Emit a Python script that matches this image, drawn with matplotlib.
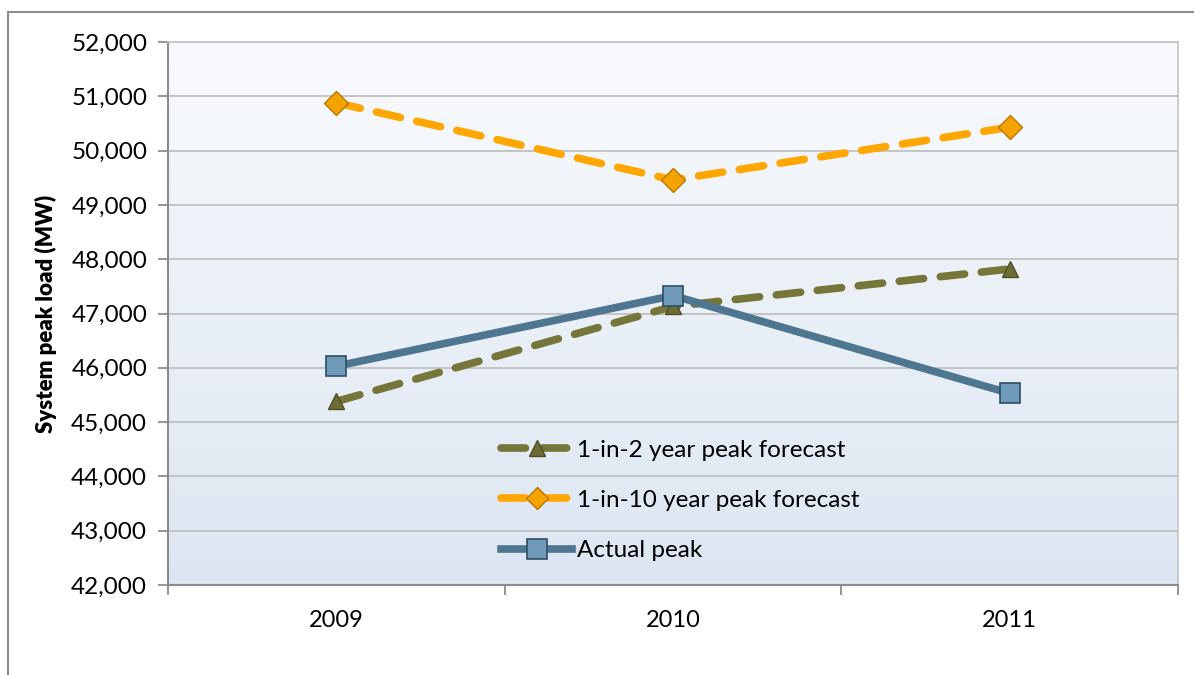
import numpy as np
import matplotlib.pyplot as plt
from matplotlib.lines import Line2D
from matplotlib.ticker import FuncFormatter, FixedLocator

plt.rcParams['font.family'] = ['Lato', 'DejaVu Sans']

years = ["2009", "2010", "2011"]
forecast_1in2 = [45380, 47130, 47820]
forecast_1in10 = [50880, 49460, 50430]
actual_peak = [46030, 47330, 45530]

OLIVE = "#76763a"
ORANGE = "#ffa600"
STEEL = "#4f7690"

fig = plt.figure(figsize=(11.94, 6.75), dpi=100)
ax = fig.add_axes([168 / 1194, 90 / 675, 1010 / 1194, 543 / 675])

# outer chart frame (left and top edges only show)
fig.add_artist(Line2D([8 / 1194, 8 / 1194], [0, 1 - 12 / 675],
                      transform=fig.transFigure, color="#8c8c8c", lw=1.5))
fig.add_artist(Line2D([8 / 1194, 1.0], [1 - 12 / 675, 1 - 12 / 675],
                      transform=fig.transFigure, color="#8c8c8c", lw=1.5))

# plot area gradient, near white at top to pale blue at bottom
grad = np.linspace(0, 1, 256).reshape(-1, 1)
top = np.array([0.975, 0.980, 0.990])
bot = np.array([0.863, 0.902, 0.949])
img = top + (bot - top) * grad[..., None]
ax.imshow(img, extent=[0, 1, 0, 1], transform=ax.transAxes, aspect="auto",
          origin="upper", zorder=0)

x = np.arange(len(years))

ax.plot(x, forecast_1in2, color=OLIVE, lw=5.5, dashes=(3.2, 2.2),
        dash_capstyle="round", zorder=3)
ax.plot(x, forecast_1in10, color=ORANGE, lw=5.5, dashes=(3.2, 2.2),
        dash_capstyle="round", zorder=3)
ax.plot(x, actual_peak, color=STEEL, lw=5.5, solid_capstyle="butt", zorder=3)

ax.plot(x, forecast_1in2, ls="none", marker="^", ms=12, mfc="#6d6d35",
        mec="#4e4e22", mew=1, zorder=4)
ax.plot(x, forecast_1in10, ls="none", marker="D", ms=12, mfc="#f5a300",
        mec="#b87700", mew=1, zorder=4)
ax.plot(x, actual_peak, ls="none", marker="s", ms=14, mfc="#6f9bb8",
        mec="#2f4f63", mew=1.2, zorder=4)

ax.set_xlim(-0.5, 2.5)
ax.set_ylim(42000, 52000)
ax.set_xticks(x)
ax.set_xticklabels(years)
ax.xaxis.set_minor_locator(FixedLocator([-0.5, 0.5, 1.5, 2.5]))
ax.tick_params(axis="x", which="major", length=0, labelsize=17, pad=18)
ax.tick_params(axis="x", which="minor", length=7, width=1.3, color="#8c8c8c")
ax.set_yticks(np.arange(42000, 52001, 1000))
ax.yaxis.set_major_formatter(FuncFormatter(lambda v, p: f"{int(v):,}"))
ax.tick_params(axis="y", length=7, width=1.3, color="#8c8c8c", labelsize=17.5, pad=8)
ax.grid(axis="y", color="#c0c0c0", lw=1.3, zorder=1)
ax.set_axisbelow(True)

for side in ["left", "bottom"]:
    ax.spines[side].set_color("#8c8c8c")
    ax.spines[side].set_linewidth(1.5)
for side in ["right", "top"]:
    ax.spines[side].set_color("#c8c8c8")
    ax.spines[side].set_linewidth(1.3)

ax.set_ylabel("System peak load (MW)", fontsize=16, fontweight="heavy", labelpad=10)

# legend sits inside the plot area, no frame
h1 = Line2D([], [], color=OLIVE, lw=5.5, dashes=(3.2, 2.2), dash_capstyle="round",
            marker="^", ms=11, mfc="#6d6d35", mec="#4e4e22")
h2 = Line2D([], [], color=ORANGE, lw=5.5, dashes=(3.2, 2.2), dash_capstyle="round",
            marker="D", ms=11, mfc="#f5a300", mec="#b87700")
h3 = Line2D([], [], color=STEEL, lw=5.5, marker="s", ms=14, mfc="#6f9bb8",
            mec="#2f4f63", mew=1.2)
ax.legend([h1, h2, h3],
          ["1-in-2 year peak forecast", "1-in-10 year peak forecast", "Actual peak"],
          loc="upper left", bbox_to_anchor=(0.318, 0.29), frameon=False,
          fontsize=17.5, handlelength=2.9, handletextpad=0.2, labelspacing=1.2,
          borderpad=0)

fig.savefig("out.png", dpi=100)
